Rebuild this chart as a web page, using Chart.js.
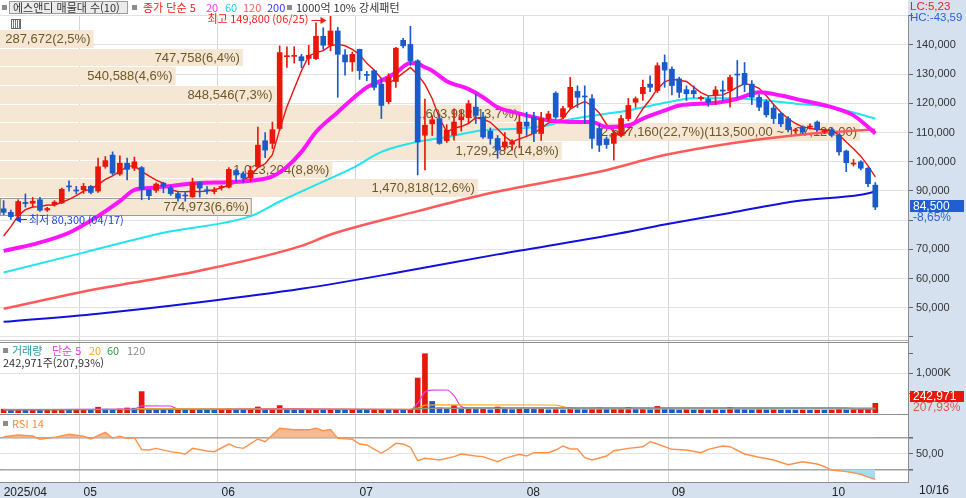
<!DOCTYPE html>
<html lang="ko">
<head>
<meta charset="utf-8">
<title>에스앤디 매물대</title>
<script src="https://cdn.jsdelivr.net/npm/chart.js@4.4.1/dist/chart.umd.min.js"></script>
<style>
  html, body { margin:0; padding:0; background:#fff; }
  #wrap { position:relative; width:966px; height:498px; overflow:hidden; }
  #c { position:absolute; left:0; top:0; }
  .t { position:absolute; white-space:nowrap; font-family:"Noto Sans CJK KR","Liberation Sans",sans-serif; font-size:11px; line-height:13px; color:#333; }
  .n { font-family:"Liberation Sans","DejaVu Sans",sans-serif; }
  .sq { position:absolute; width:5px; height:5px; background:#8c8c8c; }
</style>
</head>
<body>
<div id="wrap">
  <canvas id="c" width="966" height="498"></canvas>

  <div class="sq" style="left:2px;top:5px"></div>
  <div style="position:absolute;left:9px;top:1px;width:117px;height:11px;border:1px solid #9c9c9c;background:#ebebeb;"></div>
  <div class="t" style="left:13px;top:0.5px;">에스앤디 매물대 수(10)</div>
  <div class="sq" style="left:132px;top:5px"></div>
  <div class="t" style="left:143px;top:0.5px;color:#e8201a;">종가 단순 5</div>
  <div class="t" style="left:206px;top:0.5px;color:#ff33ff;">20</div>
  <div class="t" style="left:225px;top:0.5px;color:#19d3df;">60</div>
  <div class="t" style="left:243px;top:0.5px;color:#ff5c5c;">120</div>
  <div class="t" style="left:267px;top:0.5px;color:#3333ff;">200</div>
  <div class="sq" style="left:287px;top:5px"></div>
  <div class="t" style="left:296px;top:0.5px;">1000억 10% 강세패턴</div>

  <div style="position:absolute;left:11px;top:19px;width:8px;height:8px;border:1px solid #666;background:repeating-linear-gradient(90deg,#fff 0,#fff 1px,#777 1px,#777 2px);"></div>

  <div class="t n" style="left:910px;top:0px;color:#e8201a;font-size:11.5px;">LC:5,23</div>
  <div class="t n" style="left:910px;top:11px;color:#2a62d8;font-size:11.5px;">HC:-43,59</div>

  <div class="sq" style="left:3px;top:348px"></div>
  <div class="t" style="left:12px;top:343.5px;color:#2a9a9a;">거래량</div>
  <div class="t" style="left:52px;top:343.5px;color:#e23de2;">단순 5</div>
  <div class="t" style="left:89px;top:343.5px;color:#f0a824;">20</div>
  <div class="t" style="left:107px;top:343.5px;color:#2e9a4a;">60</div>
  <div class="t" style="left:127px;top:343.5px;color:#8a8a8a;">120</div>
  <div class="t" style="left:3px;top:355.5px;">242,971주(207,93%)</div>

  <div class="sq" style="left:3px;top:421px"></div>
  <div class="t" style="left:12px;top:416.5px;color:#ff8a3a;">RSI 14</div>

  <div class="t n" style="left:919px;top:484px;font-size:12px;color:#222;">10/16</div>
</div>

<script>
// ---------------- data ----------------
const dates = [
 '2025/04/16','2025/04/17','2025/04/18','2025/04/21','2025/04/22','2025/04/23','2025/04/24','2025/04/25','2025/04/28','2025/04/29','2025/04/30',
 '2025/05/02','2025/05/07','2025/05/08','2025/05/09','2025/05/12','2025/05/13','2025/05/14','2025/05/15','2025/05/16','2025/05/19','2025/05/20','2025/05/21','2025/05/22','2025/05/23','2025/05/26','2025/05/27','2025/05/28','2025/05/29','2025/05/30',
 '2025/06/02','2025/06/04','2025/06/05','2025/06/09','2025/06/10','2025/06/11','2025/06/12','2025/06/13','2025/06/16','2025/06/17','2025/06/18','2025/06/19','2025/06/20','2025/06/23','2025/06/24','2025/06/25','2025/06/26','2025/06/27','2025/06/30',
 '2025/07/01','2025/07/02','2025/07/03','2025/07/04','2025/07/07','2025/07/08','2025/07/09','2025/07/10','2025/07/11','2025/07/14','2025/07/15','2025/07/16','2025/07/17','2025/07/18','2025/07/21','2025/07/22','2025/07/23','2025/07/24','2025/07/25','2025/07/28','2025/07/29','2025/07/30','2025/07/31',
 '2025/08/01','2025/08/04','2025/08/05','2025/08/06','2025/08/07','2025/08/08','2025/08/11','2025/08/12','2025/08/13','2025/08/14','2025/08/18','2025/08/19','2025/08/20','2025/08/21','2025/08/22','2025/08/25','2025/08/26','2025/08/27','2025/08/28','2025/08/29',
 '2025/09/01','2025/09/02','2025/09/03','2025/09/04','2025/09/05','2025/09/08','2025/09/09','2025/09/10','2025/09/11','2025/09/12','2025/09/15','2025/09/16','2025/09/17','2025/09/18','2025/09/19','2025/09/22','2025/09/23','2025/09/24','2025/09/25','2025/09/26','2025/09/29','2025/09/30',
 '2025/10/01','2025/10/02','2025/10/10','2025/10/13','2025/10/14','2025/10/15','2025/10/16'
];

const opens = [83900,82700,81400,86100,85800,87000,83500,85300,85900,91700,
 90300,90400,91600,90000,98400,102300,95800,99500,97800,98000,
 90300,90200,92700,91000,89100,88500,88000,92900,90400,89800,
 91200,91300,97000,95900,94400,98400,107200,106300,111400,136000,
 136100,136000,135400,135300,143000,139900,144800,136600,134200,138500,
 129900,131200,126600,120600,127500,141600,140200,134600,109100,113000,
 114800,107200,109100,114400,115300,118700,115300,110500,108000,105100,
 106000,109700,113600,115300,109700,114800,123500,115300,118700,124100,
 122400,121600,111400,107800,106300,109100,114800,120400,123300,126600,
 124400,134000,131700,128400,124700,124400,121600,121500,123000,124600,
 124400,130000,130300,126600,122100,120600,118400,116500,114800,110600,
 111900,111900,113600,110300,111000,109100,103700,99200,100000,97800,
 92000];

const highs = [86700,83500,87000,89000,87800,87800,84400,86700,91000,93500,
 91600,92600,91900,101300,101800,103400,102000,101300,101600,98400,
 90600,92800,93000,91800,89700,89600,94400,93100,91500,91200,
 91900,98000,97500,96600,98500,111900,110000,113600,139700,139400,
 139400,136800,139900,147600,145900,149800,146000,138400,137600,138600,
 131000,131500,128700,130200,139200,142300,146400,135000,121500,115800,
 116400,112700,118100,117600,121000,123200,116900,111600,109000,110000,
 107600,116000,117000,116900,116900,117300,124000,119000,128900,126000,
 126000,123000,112800,108500,110500,115900,121700,122200,128000,129400,
 133900,136600,132500,129000,126000,126000,122500,122400,125800,127700,
 129700,134700,134000,127800,123000,121300,119500,117000,115500,111500,
 112300,113000,114000,111200,111600,109500,104000,100800,100400,98000,
 92900];

const lows = [81900,80300,80900,84500,84500,83000,83000,84800,85700,89900,
 89000,89200,89000,89500,97800,95600,95300,93800,97000,87000,
 87000,89500,89400,88500,86500,86500,87800,87900,89000,89000,
 90300,91000,93100,92800,93300,98000,101400,104500,110800,132300,
 133800,132200,133300,135000,138500,138000,122100,129700,131000,128200,
 127800,124600,114800,119800,125500,139000,133000,95500,97200,109000,
 106000,106600,107400,110500,113000,113100,108000,106000,101200,104000,
 104000,104800,109000,106900,107300,114000,114800,114800,118200,118600,
 113100,104600,103500,104600,100600,108500,114000,118600,121000,124000,
 123700,125500,122900,122000,121000,122000,121000,119000,119600,121000,
 118700,122000,124000,119600,117500,115300,113100,112000,110200,109800,
 109600,111200,110500,109600,108500,102300,96600,98600,97200,91500,
 83600];

const closes = [82700,81200,86400,85700,86500,83400,84000,86200,90600,91400,
 90000,91600,89500,98300,100400,96100,99500,97400,100000,90500,
 88400,92400,91600,89100,87600,88300,92900,91000,90100,89900,
 91600,97400,95500,94400,97000,105700,104000,111000,137400,136300,
 136400,134600,136500,143000,139900,144800,136800,134200,136800,131200,
 129600,125500,119300,128900,138900,139700,134600,106800,112500,114400,
 106300,110800,113600,115300,119900,115900,108500,108000,104000,106800,
 106800,113600,112200,109700,114800,116400,115300,118200,125500,122100,
 122200,108000,105700,105900,109700,114800,119300,121600,125500,125500,
 132900,131400,126100,123800,123300,123300,122100,120400,124600,124200,
 128900,129700,126400,122100,118700,116100,114800,113000,111000,110900,
 110200,112200,111000,110600,109100,103400,99700,99600,97800,92500,
 84500];

const volumes = [95000,70000,88000,72000,76000,71000,74000,80000,82000,70000,
 73000,81000,75000,145000,95000,92000,100000,125000,120000,535000,
 90000,80000,75000,70000,74000,68000,80000,75000,72000,66000,
 70000,110000,82000,78000,85000,150000,100000,110000,185000,100000,
 92000,85000,88000,90000,82000,88000,85000,75000,80000,74000,
 70000,76000,80000,78000,82000,72000,90000,875000,1483000,290000,
 125000,100000,185000,95000,100000,88000,92000,80000,150000,95000,
 85000,110000,95000,90000,100000,80000,85000,78000,125000,90000,
 85000,100000,125000,90000,95000,100000,140000,95000,105000,85000,
 165000,110000,100000,80000,85000,78000,80000,72000,78000,75000,
 133000,100000,85000,80000,88000,78000,82000,75000,72000,70000,
 74000,68000,72000,70000,76000,95000,80000,85000,90000,116850,
 242971];

// price moving averages
const ma5 = [74600,77800,81500,83600,84500,84640,85200,85160,86140,87120,
 88440,89960,90620,92160,93960,95180,96760,98340,98680,96700,
 95160,93740,92580,90400,89820,89800,89900,89780,89980,90440,
 91100,92000,92900,93760,95180,98000,99320,102420,111020,118880,
 125020,131140,136240,137360,138080,139760,140200,139740,138500,136760,
 133720,131460,128480,126900,128440,130460,132280,129780,126500,121600,
 114920,110160,111520,112080,113180,115100,114640,113520,111260,108640,
 106820,107840,108680,109820,111420,113340,113680,114880,118040,119500,
 120660,119200,116700,112780,110300,108820,111080,114260,118180,121340,
 124960,127380,128280,127940,127500,125580,123720,122580,122740,122920,
 124040,125560,126760,126260,125160,122600,119620,116940,114720,113160,
 111980,111460,111060,110980,110620,109260,106760,104480,101920,98600,
 94820];
const ma20Pts = [[0,69500],[4,71700],[9,75700],[13,81400],[16,86500],[18,90400],[20,91000],[22,91500],[27,92700],[31,93000],[34,93500],[37,95000],[39,98300],[41,103400],[43,110200],[46,117000],[48,121500],[50,125500],[52,127800],[54,130500],[56,133800],[57,133600],[58,132400],[59,131200],[61,127600],[64,124900],[66,122100],[68,118700],[71,116500],[73,115300],[75,114200],[78,113600],[81,113600],[83,111900],[86,112500],[88,114800],[91,117600],[93,119300],[98,120200],[101,121600],[104,123800],[107,122700],[110,121000],[114,118700],[117,115900],[120,109700]];
const ma60Pts = [[0,62100],[11,68900],[22,75700],[34,81400],[38,86400],[43,92100],[48,97800],[52,103400],[56,106300],[61,108500],[66,110800],[71,111400],[75,112500],[77,114000],[82,116100],[86,117600],[91,120200],[95,121800],[100,121800],[105,121000],[109,119900],[114,118700],[120,114800]];
const ma120Pts = [[0,49700],[13,56500],[27,62700],[41,71200],[45,75100],[57,83100],[66,88700],[75,93200],[82,96600],[91,102300],[100,106300],[109,109100],[118,110800],[120,111000]];
const ma200Pts = [[0,45200],[13,48000],[27,51900],[41,56500],[55,62400],[68,68300],[84,75100],[91,78500],[100,82500],[109,86500],[118,88700],[120,89800]];

// volume moving averages
const volMa5Pts = [[0,80000],[18,95000],[19,180000],[23,175000],[24,95000],[38,110000],[42,105000],[56,85000],[57,245000],[58,525000],[59,570000],[61,575000],[62,435000],[63,160000],[64,120000],[120,120000]];
const volMa20Pts = [[0,85000],[18,90000],[19,110000],[38,100000],[56,90000],[57,125000],[58,195000],[60,205000],[76,200000],[77,160000],[78,105000],[120,100000]];
const volMa60Pts = [[0,85000],[56,88000],[57,102000],[58,125000],[116,123000],[117,110000],[118,95000],[120,97000]];
const volMa120Pts = [[0,92000],[56,92000],[57,98000],[58,110000],[120,108000]];

// RSI 14
const rsiPts = [[0,71.3],[2,73.4],[4,72.1],[5,68],[7,70.5],[9,74.3],[11,72],[12,68.4],[14,76.8],[15,69.5],[16,72],[17,69.2],[18,70],[19,55],[20,54.4],[21,56.5],[23,52.3],[25,49.4],[26,56.5],[28,53.2],[29,52.3],[31,62],[32,58],[33,56.5],[35,68.4],[36,65],[38,81.9],[40,80],[42,80],[43,81.9],[44,78.9],[45,80.5],[46,69.2],[48,68],[49,62],[50,60.8],[52,50.3],[53,56],[54,62.9],[55,62],[56,58],[57,40.9],[58,43.9],[60,41.8],[62,46],[63,49.4],[65,46.8],[66,46],[68,39.6],[69,43.9],[71,49],[72,46.8],[73,51],[75,51],[76,54.4],[77,59.5],[78,55.7],[79,55.7],[80,44.7],[81,41.8],[83,46.8],[84,53.5],[86,56.5],[88,58.6],[89,65],[90,62],[92,55.3],[94,54.4],[96,51],[97,55.3],[99,59.5],[100,58.6],[102,49.4],[104,45.2],[106,41.8],[108,35.8],[110,39.6],[112,36.7],[113,33.3],[114,29],[115,28.2],[116,27],[117,25.5],[118,23.7],[119,20],[120,17.3]];

// volume profile (매물대 10 bands, top to bottom)
const bandHigh = [145400,139020,132640,126260,119880,113500,107120,100740,94360,87980];
const bandLow  = [139020,132640,126260,119880,113500,107120,100740,94360,87980,81600];
const bandVolume = [287672,747758,540588,848546,1603982,2647160,1729282,1023204,1470818,774973];
const bandPct = ['2,5','6,4','4,6','7,3','13,7','22,7','14,8','8,8','12,6','6,6'];

// axis ticks
const priceTicks = [40000,50000,60000,70000,80000,90000,100000,110000,120000,130000,140000,150000];
const priceLabelTicks = [50000,60000,70000,90000,100000,110000,120000,130000,140000];
const volTicks = [500000,1000000,1500000];
const rsiTicks = [30,50,70];

// ---------------- chart ----------------
const labels = dates.concat(['', ' ', '  ', '   ']);
const N = dates.length;
const UP = '#e8170c', DN = '#1a5bcc';
const candleColor = closes.map((c, i) => c >= opens[i] ? UP : DN);
const volColor = volumes.map((v, i) => (i === 0 || v >= volumes[i - 1]) ? UP : DN);
const pts = arr => arr.map(([i, v]) => ({ x: labels[i], y: v }));
const fmt = n => Math.round(n).toLocaleString('en-US');
const dec2 = n => n.toFixed(2).replace('.', ',');
const isMonthStart = i => i > 0 && i < N && dates[i].slice(5, 7) !== dates[i - 1].slice(5, 7);

const bandPlugin = {
  id: 'bands',
  beforeDatasetsDraw(chart) {
    const { ctx, chartArea: a } = chart;
    const ys = chart.scales.y, xp = chart.scales.xProf;
    const maxV = Math.max(...bandVolume);
    const last = closes[N - 1];
    ctx.save();
    ctx.beginPath(); ctx.rect(a.left, ys.top, a.right - a.left, ys.bottom - ys.top); ctx.clip();
    bandVolume.forEach((v, i) => {
      const y1 = Math.round(ys.getPixelForValue(bandHigh[i])) + 1;
      const y2 = Math.round(ys.getPixelForValue(bandLow[i]));
      const x1 = xp.getPixelForValue(0), x2 = xp.getPixelForValue(v);
      ctx.fillStyle = '#f5e7d4';
      ctx.fillRect(x1, y1, x2 - x1, y2 - y1);
      if (last <= bandHigh[i] && last > bandLow[i]) {
        ctx.strokeStyle = '#9b9b9b'; ctx.lineWidth = 1;
        ctx.strokeRect(x1 + 0.5, y1 + 0.5, x2 - x1 - 1, y2 - y1 - 1);
      }
      let txt = fmt(v) + '(' + bandPct[i] + '%)';
      if (v === maxV) txt += '(' + fmt(bandHigh[i]) + ',00 ~ ' + fmt(bandLow[i]) + ',00)';
      ctx.fillStyle = '#6d5828';
      ctx.font = '13px "Liberation Sans"';
      ctx.textAlign = 'right'; ctx.textBaseline = 'middle';
      ctx.fillText(txt, x2 - 3, (y1 + y2) / 2 + 0.5);
    });
    ctx.restore();
  }
};

const markPlugin = {
  id: 'marks',
  afterDatasetsDraw(chart) {
    const { ctx } = chart;
    const xs = chart.scales.x, ys = chart.scales.y;
    const hi = highs.indexOf(Math.max(...highs));
    const lo = lows.indexOf(Math.min(...lows));
    ctx.save();
    ctx.font = '11px "Noto Sans CJK KR"';
    ctx.textBaseline = 'middle';
    let x = xs.getPixelForValue(hi), y = Math.round(ys.getPixelForValue(highs[hi]) + 4) + 0.5;
    ctx.strokeStyle = ctx.fillStyle = '#f0201a'; ctx.lineWidth = 1;
    ctx.beginPath(); ctx.moveTo(x - 19, y); ctx.lineTo(x - 9, y); ctx.stroke();
    ctx.beginPath(); ctx.moveTo(x - 4, y); ctx.lineTo(x - 10, y - 3.5); ctx.lineTo(x - 10, y + 3.5); ctx.closePath(); ctx.fill();
    ctx.textAlign = 'right';
    ctx.fillText('최고 ' + fmt(highs[hi]) + ' (' + dates[hi].slice(5) + ')', x - 22, y - 2);
    x = xs.getPixelForValue(lo); y = Math.round(ys.getPixelForValue(lows[lo])) + 0.5;
    ctx.strokeStyle = ctx.fillStyle = '#2040e0';
    ctx.beginPath(); ctx.moveTo(x + 4, y); ctx.lineTo(x + 10, y - 3.5); ctx.lineTo(x + 10, y + 3.5); ctx.closePath(); ctx.fill();
    ctx.beginPath(); ctx.moveTo(x + 9, y); ctx.lineTo(x + 16, y); ctx.stroke();
    ctx.textAlign = 'left';
    ctx.fillText('최저 ' + fmt(lows[lo]) + ' (' + dates[lo].slice(5) + ')', x + 18, y);
    ctx.restore();
  }
};

const framePlugin = {
  id: 'frame',
  beforeDraw(chart) {
    const { ctx, chartArea: a, width, height } = chart;
    ctx.save();
    ctx.fillStyle = '#ffffff'; ctx.fillRect(0, 0, width, height);
    ctx.fillStyle = '#d6e1ef';
    ctx.fillRect(a.right, 0, width - a.right, height);
    ctx.fillRect(0, a.bottom, width, height - a.bottom);
    ctx.restore();
  },
  afterDraw(chart) {
    const { ctx, chartArea: a, width } = chart;
    const ys = chart.scales.y, v = chart.scales.yVol, r = chart.scales.yRsi;
    ctx.save();
    ctx.lineWidth = 1;
    ctx.strokeStyle = '#b4b4b4';
    ctx.beginPath(); ctx.moveTo(a.left, v.top - 0.5); ctx.lineTo(a.right, v.top - 0.5); ctx.stroke();
    ctx.strokeStyle = '#8e8e8e';
    ctx.beginPath(); ctx.moveTo(a.left, v.top + 1.5); ctx.lineTo(a.right, v.top + 1.5); ctx.stroke();
    ctx.beginPath(); ctx.moveTo(a.left, r.top + 1.5); ctx.lineTo(a.right, r.top + 1.5); ctx.stroke();
    ctx.font = '12px "Liberation Sans"'; ctx.textBaseline = 'middle'; ctx.textAlign = 'left';
    const last = closes[N - 1], prev = closes[N - 2];
    let y = Math.round(ys.getPixelForValue(last));
    ctx.fillStyle = '#1f5fcf';
    ctx.fillRect(a.right + 2, y - 7, width - a.right - 4, 12);
    ctx.fillStyle = '#ffffff';
    ctx.fillText(fmt(last), a.right + 5, y - 0.5);
    ctx.fillStyle = '#2a62d8';
    ctx.fillText(dec2((last / prev - 1) * 100) + '%', a.right + 5, y + 11);
    const lv = volumes[N - 1], pv = volumes[N - 2];
    y = Math.round(v.getPixelForValue(lv));
    ctx.fillStyle = '#e8170c';
    ctx.fillRect(a.right + 2, y - 12, width - a.right - 4, 11);
    ctx.fillStyle = '#ffffff';
    ctx.fillText(fmt(lv), a.right + 5, y - 6);
    ctx.fillStyle = '#e8504a';
    ctx.fillText(dec2(lv / pv * 100) + '%', a.right + 5, y + 4.5);
    ctx.restore();
  }
};

const axisFont = { family: '"Liberation Sans", sans-serif', size: 11 };
const rightAxis = (weight, extra) => Object.assign({
  type: 'linear', position: 'right', stack: 'panes', stackWeight: weight,
  border: { display: true, color: '#8c8c8c' },
  afterFit: s => { s.width = 58; }
}, extra);

const datasets = [
  { type: 'bar', label: '캔들', data: opens.map((o, i) => [o, closes[i]]), backgroundColor: candleColor,
    barThickness: 5, minBarLength: 1, grouped: false, xAxisID: 'x', yAxisID: 'y', order: 0 },
  { type: 'bar', label: '꼬리', data: lows.map((l, i) => [l, highs[i]]), backgroundColor: candleColor,
    barThickness: 1, grouped: false, xAxisID: 'x', yAxisID: 'y', order: 1 },
  { type: 'line', label: '200', data: pts(ma200Pts), borderColor: '#1010e0', borderWidth: 2, pointRadius: 0, cubicInterpolationMode: 'monotone', xAxisID: 'x', yAxisID: 'y', order: 3 },
  { type: 'line', label: '120', data: pts(ma120Pts), borderColor: '#ff5a5a', borderWidth: 2.5, pointRadius: 0, cubicInterpolationMode: 'monotone', xAxisID: 'x', yAxisID: 'y', order: 3 },
  { type: 'line', label: '60', data: pts(ma60Pts), borderColor: '#22e4ee', borderWidth: 2, pointRadius: 0, cubicInterpolationMode: 'monotone', xAxisID: 'x', yAxisID: 'y', order: 3 },
  { type: 'line', label: '20', data: pts(ma20Pts), borderColor: '#ff14ff', borderWidth: 4, pointRadius: 0, cubicInterpolationMode: 'monotone', xAxisID: 'x', yAxisID: 'y', order: 2 },
  { type: 'line', label: '5', data: ma5, borderColor: '#ee1111', borderWidth: 1.4, pointRadius: 0, tension: 0, xAxisID: 'x', yAxisID: 'y', order: 2 },

  { type: 'bar', label: '거래량', data: volumes, backgroundColor: volColor, barThickness: 5, grouped: false, xAxisID: 'x', yAxisID: 'yVol', order: 5 },
  { type: 'line', label: '거래량 120', data: pts(volMa120Pts), borderColor: '#9a9a9a', borderWidth: 1, pointRadius: 0, xAxisID: 'x', yAxisID: 'yVol', order: -1 },
  { type: 'line', label: '거래량 60', data: pts(volMa60Pts), borderColor: '#2e9a4a', borderWidth: 1.2, pointRadius: 0, xAxisID: 'x', yAxisID: 'yVol', order: -1 },
  { type: 'line', label: '거래량 20', data: pts(volMa20Pts), borderColor: '#f0a824', borderWidth: 1.2, pointRadius: 0, xAxisID: 'x', yAxisID: 'yVol', order: -1 },
  { type: 'line', label: '거래량 5', data: pts(volMa5Pts), borderColor: '#e23de2', borderWidth: 1.2, pointRadius: 0, cubicInterpolationMode: 'monotone', xAxisID: 'x', yAxisID: 'yVol', order: -1 },

  { type: 'line', label: 'RSI 14', data: pts(rsiPts), borderColor: '#ff9148', borderWidth: 1.4, pointRadius: 0,
    fill: { target: { value: 70 }, above: '#f6ba90', below: 'rgba(0,0,0,0)' }, xAxisID: 'x', yAxisID: 'yRsi', order: 4 },
  { type: 'line', label: 'RSI fill', data: pts(rsiPts), borderColor: 'rgba(0,0,0,0)', borderWidth: 0, pointRadius: 0,
    fill: { target: { value: 30 }, above: 'rgba(0,0,0,0)', below: '#a6dcf2' }, xAxisID: 'x', yAxisID: 'yRsi', order: 4 }
];

new Chart(document.getElementById('c'), {
  type: 'bar',
  data: { labels, datasets },
  plugins: [framePlugin, bandPlugin, markPlugin],
  options: {
    responsive: false,
    animation: false,
    events: [],
    layout: { padding: { top: 15, left: 0, right: 0, bottom: 0 } },
    plugins: { legend: { display: false }, tooltip: { enabled: false } },
    scales: {
      x: {
        type: 'category', offset: true,
        grid: { offset: true, drawTicks: false, lineWidth: 1,
          color: ctx => (ctx.index !== undefined && isMonthStart(ctx.index)) ? '#d6d6d6' : 'rgba(0,0,0,0)' },
        border: { display: true, color: '#8c8c8c' },
        ticks: { autoSkip: false, maxRotation: 0, minRotation: 0, align: 'start', padding: 3,
          font: { family: '"Liberation Sans", sans-serif', size: 12 }, color: '#222',
          callback: (v, i) => {
            if (i >= N) return '';
            if (i === 0) return dates[0].slice(0, 7);
            return isMonthStart(i) ? dates[i].slice(5, 7) : '';
          } },
        afterFit: s => { s.height = 16; }
      },
      xProf: { type: 'linear', axis: 'x', display: false, offset: false, min: 0, max: 2795000,
               grid: { offset: false } },
      y: rightAxis(326, {
        min: 38630, max: 150270,
        afterBuildTicks: s => { s.ticks = priceTicks.map(v => ({ value: v })); },
        grid: { color: '#e2e2e2', tickColor: '#666', tickLength: 5 },
        ticks: { autoSkip: false, padding: 3, crossAlign: 'near', font: axisFont, color: '#333',
          callback: v => priceLabelTicks.includes(v) ? fmt(v) : '' }
      }),
      yVol: rightAxis(72, {
        min: 0, max: 1800000,
        afterBuildTicks: s => { s.ticks = volTicks.map(v => ({ value: v })); },
        grid: { color: ctx => (ctx.tick && ctx.tick.value === 1000000) ? '#e2e2e2' : 'rgba(0,0,0,0)', tickColor: '#666', tickLength: 5 },
        ticks: { autoSkip: false, padding: 3, crossAlign: 'near', font: axisFont, color: '#333',
          callback: v => v === 1000000 ? '1,000K' : '' }
      }),
      yRsi: rightAxis(69, {
        min: 13.9, max: 101.3,
        afterBuildTicks: s => { s.ticks = rsiTicks.map(v => ({ value: v })); },
        grid: { color: ctx => (ctx.tick && ctx.tick.value === 50) ? '#e2e2e2' : '#a0a0a0',
                lineWidth: ctx => (ctx.tick && ctx.tick.value === 50) ? 1 : 1.5, tickColor: '#666', tickLength: 5 },
        ticks: { autoSkip: false, padding: 3, crossAlign: 'near', font: axisFont, color: '#333',
          callback: v => v === 50 ? '50,00' : '' }
      })
    }
  }
});
</script>
</body>
</html>
